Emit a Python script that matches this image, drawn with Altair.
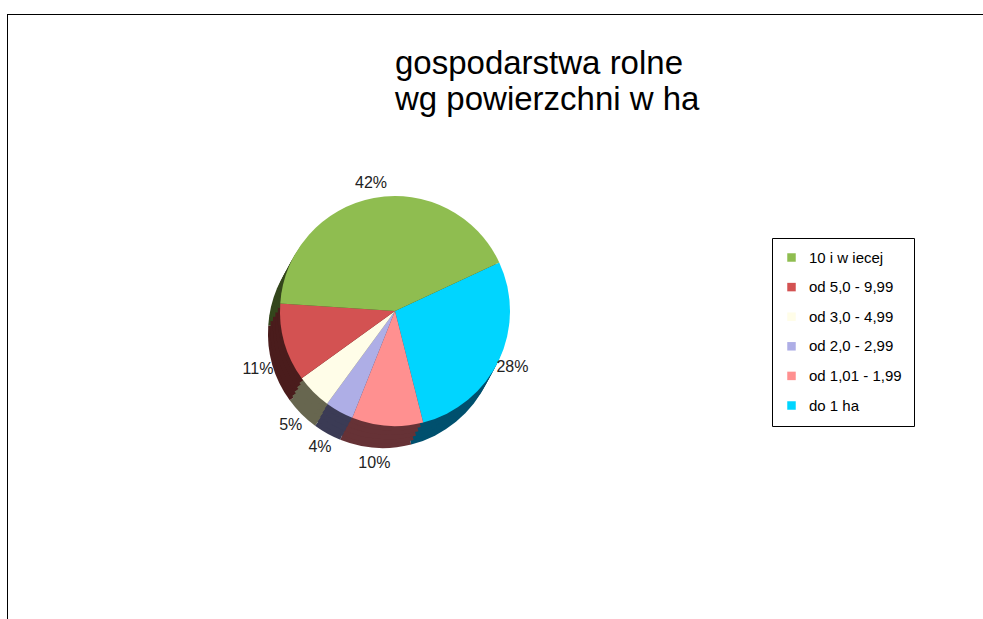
import math
import altair as alt
import pandas as pd

categories = ["do 1 ha", "od 1,01 - 1,99", "od 2,0 - 2,99", "od 3,0 - 4,99", "od 5,0 - 9,99", "10 i w iecej"]
values = [28, 10, 4, 5, 11, 42]
labels = ["28%", "10%", "4%", "5%", "11%", "42%"]
lower_side = [False, True, True, True, True, False]
legend_order = ["10 i w iecej", "od 5,0 - 9,99", "od 3,0 - 4,99", "od 2,0 - 2,99", "od 1,01 - 1,99", "do 1 ha"]
top_colors = ["#8FBD50", "#D35252", "#FFFDE8", "#AEAEE6", "#FF9090", "#00D5FF"]
dark_colors = ["#34461C", "#4A1C1C", "#67664F", "#3B3B55", "#663236", "#00506E"]
title_lines = ["gospodarstwa rolne", "wg powierzchni w ha"]

df = pd.DataFrame({"cat": categories, "val": values, "lab": labels,
                   "idx": list(range(len(categories))), "lower": lower_side})

start = math.radians(65)
theta_scale = alt.Scale(domain=[0, 100], range=[start, start + 2 * math.pi])
CX, CY, R = 395, 311, 115
DX, DY = -12, 22
FONT = "Liberation Sans"

base = alt.Chart(df)


def pie(cx, cy, colors, legend):
    return base.mark_arc(outerRadius=R, stroke=None).encode(
        theta=alt.Theta("val:Q", stack=True, scale=theta_scale),
        order=alt.Order("idx:Q"),
        color=alt.Color("cat:N", scale=alt.Scale(domain=legend_order, range=colors), legend=legend),
        x=alt.value(cx), y=alt.value(cy),
    )


depth_layers = [pie(CX + DX * f, CY + DY * f, dark_colors, None) for f in [1.0, 0.8, 0.6, 0.4, 0.2]]

top = pie(CX, CY, top_colors, alt.Legend(
    title=None, orient="none", legendX=772, legendY=238,
    symbolType="square", symbolSize=72, symbolStrokeWidth=0,
    labelFont=FONT, labelFontSize=15, labelColor="#000", labelOffset=10,
    rowPadding=13.6, padding=12, strokeColor="#000", fillColor="#fff", labelLimit=300))

stacked = base.transform_stack(
    stack="val", groupby=[], as_=["s0", "s1"], sort=[alt.SortField("idx", order="ascending")]
).transform_calculate(mid="(datum.s0 + datum.s1) / 2")

lab_upper = stacked.transform_filter("!datum.lower").mark_text(
    radius=130, font=FONT, fontSize=16, color="#222").encode(
    theta=alt.Theta("mid:Q", stack=None, scale=theta_scale),
    text="lab:N",
    x=alt.value(CX), y=alt.value(CY),
)
lab_lower = stacked.transform_filter("datum.lower").mark_text(
    radius=130, font=FONT, fontSize=16, color="#222").encode(
    theta=alt.Theta("mid:Q", stack=None, scale=theta_scale),
    text="lab:N",
    x=alt.value(CX + DX), y=alt.value(CY + DY),
)

tdf = pd.DataFrame({"t": title_lines, "i": [0, 1]})
title_layers = []
for i, yb in enumerate([74, 110]):
    title_layers.append(
        alt.Chart(tdf).transform_filter(f"datum.i == {i}").mark_text(
            font=FONT, fontSize=33, color="#000", align="left", baseline="alphabetic").encode(
            text="t:N", x=alt.value(395), y=alt.value(yb))
    )

frame_df = pd.DataFrame({"a": [0]})
frame_top = alt.Chart(frame_df).mark_rule(color="#000", strokeWidth=1).encode(
    x=alt.value(7), x2=alt.value(990), y=alt.value(14.5))
frame_left = alt.Chart(frame_df).mark_rule(color="#000", strokeWidth=1).encode(
    x=alt.value(7.5), y=alt.value(14), y2=alt.value(630))

chart = alt.layer(frame_top, frame_left, *depth_layers, top, lab_upper, lab_lower, *title_layers).resolve_scale(
    color="independent", theta="shared"
).properties(
    width=983, height=619, padding=0, autosize=alt.AutoSizeParams(type="none")
).configure_view(stroke=None)

chart.save("out.html", embed_options={"renderer": "svg", "actions": False})
